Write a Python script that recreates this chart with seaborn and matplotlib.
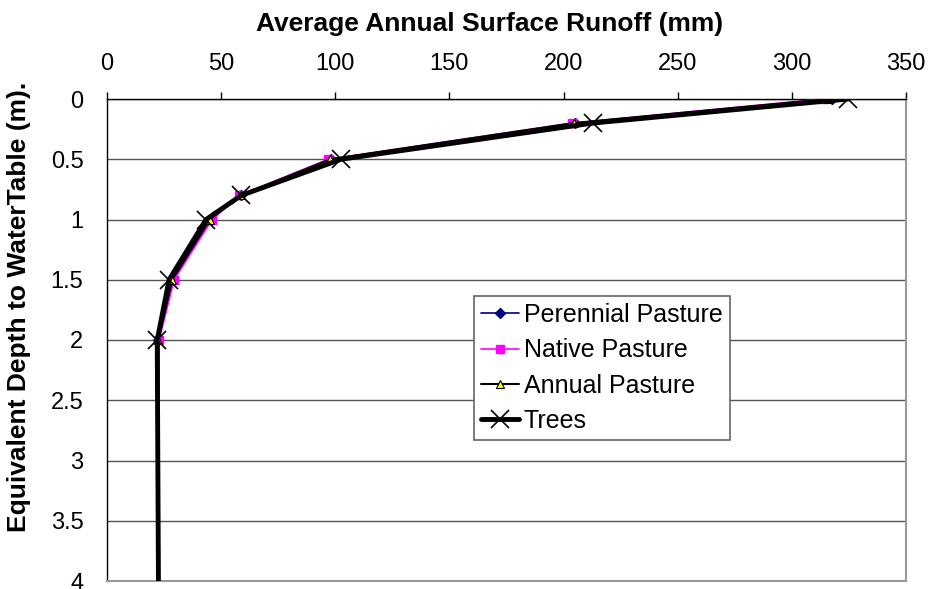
import matplotlib
matplotlib.use("Agg")
import matplotlib.pyplot as plt
import seaborn as sns
import pandas as pd

sns.set_style('white')
plt.rcParams['font.family'] = ['Liberation Sans', 'DejaVu Sans']
plt.rcParams['text.color'] = 'black'
plt.rcParams['axes.labelcolor'] = 'black'
plt.rcParams['xtick.color'] = 'black'
plt.rcParams['ytick.color'] = 'black'

# depth to water table (m), last point lies below the visible range
depth = [0, 0.2, 0.5, 0.8, 1.0, 1.5, 2.0, 5.0]

# average annual surface runoff (mm) for each land use
perennial = [317.5, 205.0, 98.0, 58.5, 45.5, 29.0, 22.5, 22.4]
native = [313.6, 203.5, 97.0, 58.0, 46.0, 29.4, 22.8, 22.0]
annual = [316.0, 204.4, 97.8, 58.5, 45.0, 28.5, 22.5, 22.3]
trees = [324.6, 212.7, 102.6, 58.8, 43.4, 27.2, 22.0, 22.8]

series = ['Perennial Pasture', 'Native Pasture', 'Annual Pasture', 'Trees']
values = [perennial, native, annual, trees]

# line styles per series
styles = {
    'Perennial Pasture': dict(color='#000080', lw=1.2, marker='D', ms=5,
                              mfc='#000080', mec='#000080'),
    'Native Pasture': dict(color='#ff00ff', lw=1.2, marker='s', ms=6,
                           mfc='#ff00ff', mec='#ff00ff'),
    'Annual Pasture': dict(color='black', lw=1.5, marker='^', ms=6,
                           mfc='#ffff00', mec='black', mew=0.8),
    'Trees': dict(color='black', lw=3.5, marker='x', ms=13, mec='black', mew=1.2),
}

fig = plt.figure(figsize=(9.31, 5.89), dpi=100)
ax = fig.add_axes([107 / 931, 1 - 581 / 589, 799 / 931, 482 / 589])

for name, vals in zip(series, values):
    df = pd.DataFrame({'runoff': vals, 'depth': depth})
    st = styles[name]
    sns.lineplot(data=df, x='runoff', y='depth', sort=False, estimator=None,
                 ax=ax, label=name, color=st['color'], linewidth=st['lw'],
                 marker=st['marker'], markersize=st['ms'],
                 markerfacecolor=st.get('mfc', 'none'),
                 markeredgecolor=st['mec'], markeredgewidth=st.get('mew', 1.0),
                 zorder=3)

ax.set_xlim(0, 350)
ax.set_ylim(4, 0)
ax.set_xticks(range(0, 351, 50))
ax.set_yticks([0, 0.5, 1, 1.5, 2, 2.5, 3, 3.5, 4])
ax.set_yticklabels(['0', '0.5', '1', '1.5', '2', '2.5', '3', '3.5', '4'])

ax.xaxis.tick_top()
ax.xaxis.set_label_position('top')
ax.tick_params(axis='both', labelsize=17, direction='out', width=1,
               color='black', labelcolor='black')
ax.tick_params(axis='x', length=5, pad=12)
ax.tick_params(axis='y', length=6, pad=11)

ax.set_xlabel('Average Annual Surface Runoff (mm)', fontsize=19,
              fontweight='bold', color='black')
ax.xaxis.set_label_coords(0.479, 1.141)
ax.set_ylabel('Equivalent Depth to WaterTable (m).', fontsize=19,
              fontweight='bold', color='black')
ax.yaxis.set_label_coords(-0.095, 0.568)

ax.yaxis.grid(True, color='#555555', linewidth=1.0)
ax.xaxis.grid(False)
ax.set_axisbelow(True)

for side in ['top', 'left']:
    ax.spines[side].set_color('black')
    ax.spines[side].set_linewidth(1.0)
for side in ['right', 'bottom']:
    ax.spines[side].set_color('#999999')
    ax.spines[side].set_linewidth(1.5)

leg = ax.legend(loc='upper left', bbox_to_anchor=(0.459, 0.592), fontsize=18,
                frameon=True, fancybox=False, framealpha=1, edgecolor='#666666',
                borderpad=0.3, labelspacing=0.45, handlelength=1.5,
                handletextpad=0.2, borderaxespad=0, labelcolor='black')
leg.get_frame().set_linewidth(1.2)

fig.savefig('out.png', dpi=100)
